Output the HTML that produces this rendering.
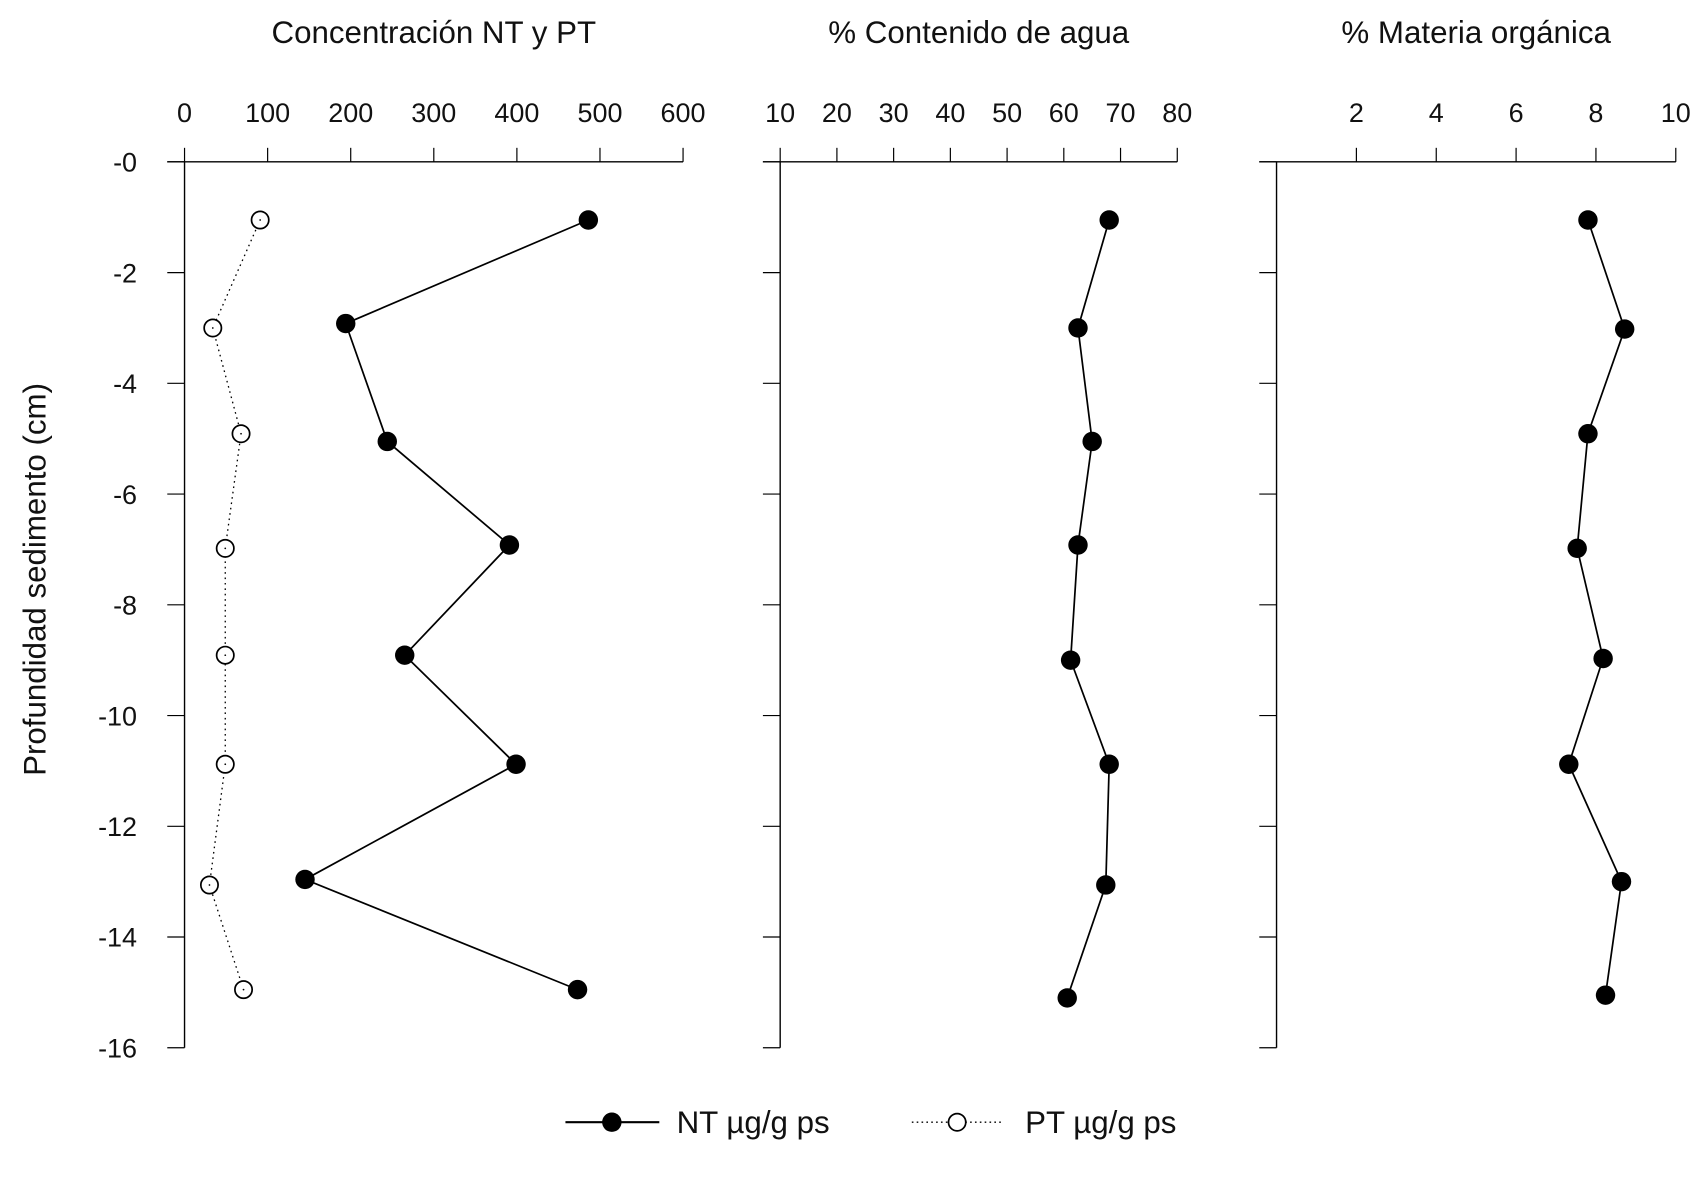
<!DOCTYPE html>
<html><head><meta charset="utf-8"><style>
html,body{margin:0;padding:0;background:#fff;}
svg{display:block;}
text{font-family:"Liberation Sans","DejaVu Sans",sans-serif;fill:#111;}
</style></head><body>
<svg id="chart" width="1692" height="1178" viewBox="0 0 1568 1091.7" xmlns="http://www.w3.org/2000/svg">
<text x="0" y="0" transform="translate(42,537) rotate(-90)" text-anchor="middle" font-size="29">Profundidad sedimento (cm)</text>
<g id="plots"></g>
<g>
  <g>
    <line x1="524" y1="1040" x2="611" y2="1040" stroke="#000" stroke-width="2"/>
    <circle cx="567" cy="1040" r="9" fill="#000"/>
    <text x="627" y="1050" font-size="29">NT µg/g ps</text>
  </g>
  <g>
    <line x1="845" y1="1040" x2="930" y2="1040" stroke="#000" stroke-width="1.3" stroke-dasharray="1.5,3"/>
    <circle cx="887" cy="1040" r="8" fill="#fff" stroke="#000" stroke-width="1.6"/>
    <text x="950" y="1050" font-size="29">PT µg/g ps</text>
  </g>
</g>
</svg>
<script>
const depthTicks = [0,-2,-4,-6,-8,-10,-12,-14,-16];
const depthLabels = ["-0","-2","-4","-6","-8","-10","-12","-14","-16"];
const ntDepth = [1.05,2.92,5.05,6.92,8.91,10.88,12.96,14.95];
const ntValues = [486,194,244,391,265,399,145,473];
const ptDepth = [1.05,3.0,4.91,6.98,8.91,10.88,13.06,14.95];
const ptValues = [91,34,68,49,49,49,30,71];
const waterDepth = [1.05,3.0,5.05,6.92,9.0,10.88,13.06,15.1];
const waterValues = [68.0,62.5,65.0,62.5,61.2,68.0,67.4,60.6];
const omDepth = [1.05,3.02,4.91,6.98,8.97,10.88,13.0,15.05];
const omValues = [7.8,8.72,7.8,7.53,8.18,7.32,8.64,8.24];
const concTicks = [0,100,200,300,400,500,600];
const waterTicks = [10,20,30,40,50,60,70,80];
const omTicks = [2,4,6,8,10];

const NS="http://www.w3.org/2000/svg";
const root=document.getElementById('plots');
function mk(tag,attrs,parent){const e=document.createElementNS(NS,tag);for(const k in attrs)e.setAttribute(k,attrs[k]);(parent||root).appendChild(e);return e;}
const Y0=150,Y1=971;
function yScale(d){return Y0+(d/16)*(Y1-Y0);}

function panel(name,title,x0,x1,dmin,dmax,ticks,showYLabels){
  const g=mk('g',{});
  
  
  const xs=v=>x0+(v-dmin)/(dmax-dmin)*(x1-x0);
  const t=mk('text',{x:(x0+x1)/2,y:40,'text-anchor':'middle','font-size':29},g);
  t.textContent=title;
  
  
  mk('line',{x1:x0-16,y1:Y0,x2:x1,y2:Y0,stroke:'#000','stroke-width':1.3},g);
  mk('line',{x1:x0,y1:Y0,x2:x0,y2:Y1,stroke:'#000','stroke-width':1.3},g);
  ticks.forEach(v=>{
    const x=xs(v);
    mk('line',{x1:x,y1:Y0-13,x2:x,y2:Y0,stroke:'#000','stroke-width':1.1},g);
    const l=mk('text',{x:x,y:113,'text-anchor':'middle','font-size':25},g);
    l.textContent=v;
    
    
  });
  depthTicks.forEach((d,i)=>{
    const y=yScale(-d);
    mk('line',{x1:x0-16,y1:y,x2:x0,y2:y,stroke:'#000','stroke-width':1.1},g);
    if(showYLabels){
      const l=mk('text',{x:x0-44,y:y+9,'text-anchor':'end','font-size':25},g);
      l.textContent=depthLabels[i];
      
      
    }
  });
  return {g,xs};
}
function series(p,vals,depths,filled,name){
  const pts=vals.map((v,i)=>p.xs(v)+','+yScale(depths[i])).join(' ');
  const pl=mk('polyline',{points:pts,fill:'none',stroke:'#000','stroke-width':filled?1.6:1.2,'stroke-dasharray':filled?'none':'1.5,3.5'},p.g);
  
  
  vals.forEach((v,i)=>{
    const c=mk('circle',{cx:p.xs(v),cy:yScale(depths[i]),r:filled?9:8,fill:filled?'#000':'#fff',stroke:'#000','stroke-width':filled?0:1.6},p.g);
    if(!filled) mk('circle',{cx:p.xs(v),cy:yScale(depths[i]),r:0.8,fill:'#000'},p.g);
    
    
  });
}
const p1=panel('panel-concentration','Concentración NT y PT',171,633,0,600,concTicks,true);
series(p1,ptValues,ptDepth,false,'pt');
series(p1,ntValues,ntDepth,true,'nt');
const p2=panel('panel-water','% Contenido de agua',723,1091,10,80,waterTicks,false);
series(p2,waterValues,waterDepth,true,'water');
const p3=panel('panel-organic','% Materia orgánica',1183,1553,0,10,omTicks,false);
series(p3,omValues,omDepth,true,'organic-matter');
</script>
</body></html>
